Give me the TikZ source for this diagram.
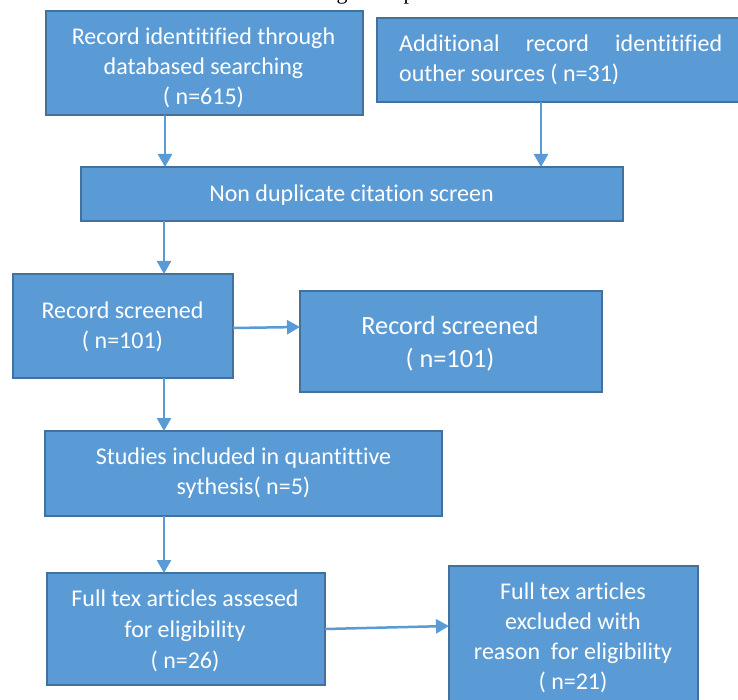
\documentclass[tikz,border=0pt]{standalone}
\usepackage{fontspec}
\setmainfont{Carlito}[Ligatures={NoCommon}]
\newfontfamily\capfont{Liberation Serif}
\usetikzlibrary{arrows.meta}
\definecolor{boxfill}{HTML}{5B9BD5}
\definecolor{boxline}{HTML}{41719C}
\begin{document}
\begin{tikzpicture}[x=1pt,y=-1pt,
 box/.style={draw=boxline,fill=boxfill,line width=2pt,rectangle,inner sep=0pt,outer sep=0pt},
 txt/.style={text=white,align=center,inner sep=0pt,font=\fontsize{24}{30}\selectfont},
 arr/.style={draw=boxfill,line width=2.5pt,-{Triangle[length=13pt,width=14pt]}},
 frag/.style={inner sep=0pt,anchor=base,font=\capfont\fontsize{22}{26}\selectfont}]
\useasboundingbox (0,0) rectangle (738,700);
\fill[white] (0,0) rectangle (738,700);
% caption fragments cut off at the top edge
\node[frag] (g1) at (342,0) {g};
\node[frag] (p1) at (409,0) {p};
% boxes
\node[box,minimum width=317pt,minimum height=104pt] (b1) at (204.5,63) {};
\node[txt] (t1) at (203.5,67.5) {Record identitified through\\databased searching\\( n=615)};
\node[box,minimum width=383pt,minimum height=84pt] (b2) at (568.5,60) {};
\node[txt,align=left,anchor=west] (t2) at (399,60) {\makebox[323pt][s]{Additional record identitified}\\outher sources ( n=31)};
\node[box,minimum width=542pt,minimum height=54pt] (b3) at (352,194) {};
\node[txt] (t3) at (351.5,195) {Non duplicate citation screen};
\node[box,minimum width=220pt,minimum height=104pt] (b4) at (123,326) {};
\node[txt] (t4) at (122.5,327) {Record screened\\( n=101)};
\node[box,minimum width=302pt,minimum height=101pt] (b5) at (451,341.5) {};
\node[txt,font=\fontsize{26.3}{33}\selectfont] (t5) at (450,343.5) {Record screened\\( n=101)};
\node[box,minimum width=397pt,minimum height=85pt] (b6) at (243.5,473.5) {};
\node[txt] (t6) at (243.5,473) {Studies included in quantittive\\sythesis( n=5)};
\node[box,minimum width=278pt,minimum height=112pt] (b7) at (186,629) {};
\node[txt,font=\fontsize{24}{31}\selectfont] (t7) at (185,631) {Full tex articles assesed\\for eligibility\\( n=26)};
\node[box,minimum width=249pt,minimum height=164pt] (b8) at (573.5,648) {};
\node[txt] (t8) at (573,637.5) {Full tex articles\\excluded with\\reason\ \ for eligibility\\( n=21)};
% connectors
\draw[arr] ([xshift=-39.5pt]b1.south) -- ([xshift=-187pt]b3.north);
\draw[arr] ([xshift=-27.5pt]b2.south) -- ([xshift=189pt]b3.north);
\draw[arr] ([xshift=-188pt]b3.south) -- ([xshift=41pt]b4.north);
\draw[arr] ([yshift=-2pt]b4.east) -- ([yshift=14.5pt]b5.west);
\draw[arr] ([xshift=41pt]b4.south) -- ([xshift=-79.5pt]b6.north);
\draw[arr] ([xshift=-79.5pt]b6.south) -- ([xshift=-22pt]b7.north);
\draw[arr] (b7.east) -- ([yshift=22pt]b8.west);
\end{tikzpicture}
\end{document}
